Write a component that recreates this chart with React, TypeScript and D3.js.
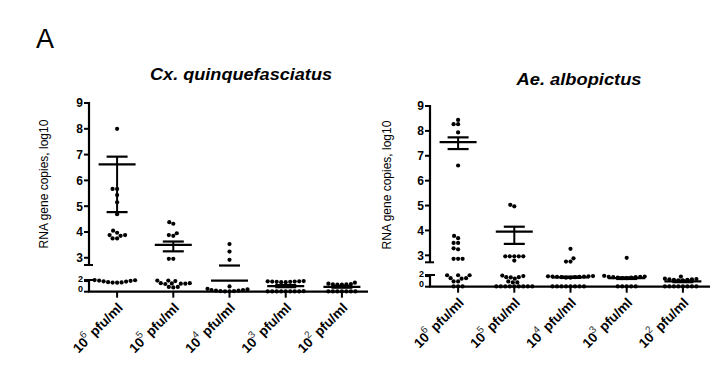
import React from 'react';
import * as d3 from 'd3';

const categories = ['6', '5', '4', '3', '2'];

// Cx. quinquefasciatus values (log10), one array per dose group
const cx6 = [8.0, 5.67, 5.67, 5.43, 5.15, 4.69, 4.05, 3.97, 3.88, 3.88, 3.85, 3.75, 3.75,
  2.18, 2.15, 2.1, 2.05, 1.95, 1.9, 1.8, 1.75, 1.72, 1.7];
const cx5 = [4.38, 4.32, 3.95, 3.88, 3.85, 2.96, 2.96,
  2.1, 2.1, 2.0, 1.6, 1.6, 1.55, 1.5, 1.5, 1.45, 0.9, 0.9, 0.8];
const cx4 = [3.53, 3.24, 2.92, 1.0, 0.55, 0.45, 0.3, 0.2, 0.1, 0.05, 0.05, 0.1, 0.2, 0.3];
const cx3 = [2.0, 1.95, 1.95, 1.9, 1.9, 1.85, 1.85, 1.8, 1.8,
  0.1, 0.05, 0.05, 0.05, 0.05, 0.05, 0.05, 0.05, 0.05];
const cx2 = [1.7, 1.5, 1.45, 1.4, 1.4, 1.35, 1.35, 0.05, 0.05, 0.05, 0.05, 0.05, 0.05, 0.05];
const cxMean = [6.62, 3.5, 2.07, 1.05, 0.9];
const cxLow: (number | null)[] = [4.77, 3.25, null, 0.85, 0.75];
const cxHigh = [6.92, 3.63, 2.7, 1.25, 1.05];

// Ae. albopictus values (log10)
const ae6 = [8.44, 8.27, 8.27, 7.94, 6.61, 3.78, 3.69, 3.5, 3.5, 3.28, 3.24, 2.86, 2.86, 2.86,
  2.15, 2.15, 2.15, 1.6, 1.6, 1.5, 1.0, 1.0, 0.05, 0.05, 0.05];
const ae5 = [5.03, 4.97, 2.96, 2.96, 2.96, 2.96, 2.96, 2.79,
  2.1, 2.0, 1.8, 1.8, 1.75, 1.5, 1.0, 0.8, 0.8,
  0.05, 0.05, 0.05, 0.05, 0.05, 0.05, 0.05, 0.05, 0.05];
const ae4 = [3.26, 2.88, 2.75, 2.75, 2.0, 1.95, 1.95, 1.9, 1.9, 1.85, 1.85, 1.8, 1.8, 1.7, 1.7,
  0.05, 0.05, 0.05, 0.05, 0.05, 0.05, 0.05, 0.05];
const ae3 = [2.9, 2.05, 1.9, 1.85, 1.85, 1.8, 1.8, 1.7, 1.7, 1.6, 1.6, 0.05, 0.05, 0.05, 0.05, 0.05];
const ae2 = [1.9, 1.5, 1.45, 1.4, 1.4, 1.3, 1.3, 1.2, 1.2, 0.05, 0.05, 0.05, 0.05, 0.05, 0.05, 0.05, 0.05];
const aeMean = [7.55, 3.95, 1.77, 1.6, 1.0];
const aeLow: (number | null)[] = [7.27, 3.46, 1.65, 1.45, 0.85];
const aeHigh = [7.74, 4.15, 1.9, 1.75, 1.15];

const upperTicks = [3, 4, 5, 6, 7, 8, 9];
const lowerTicks = [0, 2];
const LOWER_MAX = 2.2;
const UPPER_MIN = 2.72;

const FONT = 'Liberation Sans, Arial, sans-serif';

function swarm(ys: number[], D: number): number[] {
  const order = ys.map((_, i) => i).sort((a, b) => ys[b] - ys[a]);
  const placed: { x: number; y: number }[] = [];
  const xs = new Array(ys.length).fill(0);
  for (const i of order) {
    const y = ys[i];
    for (let k = 0; k < 400; k++) {
      const off = (k % 2 === 0 ? 1 : -1) * Math.ceil(k / 2) * 0.5;
      if (placed.every(p => (p.x - off) ** 2 + (p.y - y) ** 2 >= D * D)) {
        xs[i] = off;
        placed.push({ x: off, y });
        break;
      }
    }
  }
  return xs;
}

type PanelProps = {
  title: string;
  titleX: number;
  titleY: number;
  titleLen: number;
  labelX: number;
  labelY: number;
  axisX: number;
  axisRight: number;
  xRangeEnd: number;
  top: number;
  upperBottom: number;
  lowerTop: number;
  axisY: number;
  groups: number[][];
  means: number[];
  lows: (number | null)[];
  highs: number[];
};

function Panel(p: PanelProps) {
  const yUp = d3.scaleLinear().domain([UPPER_MIN, 9]).range([p.upperBottom, p.top]);
  const yLo = d3.scaleLinear().domain([0, LOWER_MAX]).range([p.axisY, p.lowerTop]);
  const y = (v: number) => (v <= LOWER_MAX ? yLo(v) : yUp(v));
  const seg = (v: number) => (v <= LOWER_MAX ? 0 : 1);
  const x = d3.scalePoint<string>().domain(categories).range([p.axisX, p.xRangeEnd]).padding(0.5);
  const ax = p.axisX;

  return (
    <g>
      <text x={p.titleX} y={p.titleY} textAnchor="middle" fontFamily={FONT} fontWeight="bold"
        fontStyle="italic" fontSize={16} textLength={p.titleLen} lengthAdjust="spacingAndGlyphs">{p.title}</text>
      <text transform={`translate(${p.labelX},${p.labelY}) rotate(-90)`} textAnchor="middle"
        fontFamily={FONT} fontSize={12}>RNA gene copies, log10</text>

      {/* points */}
      {p.groups.map((vals, gi) => {
        const ys = vals.map(y);
        const xs = swarm(ys, 4.2);
        const cx = x(categories[gi])!;
        return vals.map((v, i) => (
          <circle key={`${gi}-${i}`} cx={cx + xs[i]} cy={ys[i]} r={2.1} fill="#000" />
        ));
      })}

      {/* means and error bars */}
      {p.means.map((m, gi) => {
        const cx = x(categories[gi])!;
        const hi = p.highs[gi];
        const lo = p.lows[gi];
        const els = [] as React.ReactNode[];
        els.push(<line key="m" x1={cx - 18.5} x2={cx + 18.5} y1={y(m)} y2={y(m)} stroke="#000" strokeWidth={2.2} />);
        els.push(<line key="h" x1={cx - 10.5} x2={cx + 10.5} y1={y(hi)} y2={y(hi)} stroke="#000" strokeWidth={2.2} />);
        if (seg(hi) === seg(m)) els.push(<line key="vh" x1={cx} x2={cx} y1={y(m)} y2={y(hi)} stroke="#000" strokeWidth={2} />);
        if (lo !== null) {
          els.push(<line key="l" x1={cx - 10.5} x2={cx + 10.5} y1={y(lo)} y2={y(lo)} stroke="#000" strokeWidth={2.2} />);
          if (seg(lo) === seg(m)) els.push(<line key="vl" x1={cx} x2={cx} y1={y(m)} y2={y(lo)} stroke="#000" strokeWidth={2} />);
        }
        return <g key={`e${gi}`}>{els}</g>;
      })}

      {/* y axis upper segment */}
      <line x1={ax} x2={ax} y1={yUp(9) - 1} y2={yUp(UPPER_MIN)} stroke="#000" strokeWidth={2.2} />
      <line x1={ax - 5} x2={ax + 4} y1={yUp(UPPER_MIN)} y2={yUp(UPPER_MIN)} stroke="#000" strokeWidth={2} />
      {upperTicks.map(t => (
        <g key={`u${t}`}>
          <line x1={ax - 5} x2={ax} y1={yUp(t)} y2={yUp(t)} stroke="#000" strokeWidth={2} />
          <text x={ax - 6} y={yUp(t)} dy="0.36em" textAnchor="end" fontFamily={FONT} fontWeight="bold" fontSize={12}>{t}</text>
        </g>
      ))}
      {/* y axis lower segment */}
      <line x1={ax} x2={ax} y1={yLo(LOWER_MAX)} y2={p.axisY} stroke="#000" strokeWidth={2.2} />
      <line x1={ax - 5} x2={ax + 5} y1={yLo(LOWER_MAX)} y2={yLo(LOWER_MAX)} stroke="#000" strokeWidth={2} />
      {lowerTicks.map(t => (
        <g key={`l${t}`}>
          <line x1={ax - 5} x2={ax} y1={yLo(t)} y2={yLo(t)} stroke="#000" strokeWidth={2} />
          <text x={ax - 6} y={t === 0 ? p.axisY + 0.5 : yLo(t) + 0.5} textAnchor="end" fontFamily={FONT}
            fontWeight="bold" fontSize={9}>{t}</text>
        </g>
      ))}

      {/* x axis */}
      <line x1={ax - 1} x2={p.axisRight} y1={p.axisY} y2={p.axisY} stroke="#000" strokeWidth={2.2} />
      {categories.map(c => {
        const cx = x(c)!;
        return (
          <g key={`x${c}`}>
            <line x1={cx} x2={cx} y1={p.axisY} y2={p.axisY + 6} stroke="#000" strokeWidth={2} />
            <text transform={`translate(${cx + 6.5},${p.axisY + 17}) rotate(-45)`} textAnchor="end"
              fontFamily={FONT} fontWeight="bold" fontSize={13.5}>
              10<tspan fontWeight="normal" fontSize={10} dy={-7} dx={-1} fill="#333">{c}</tspan>
              <tspan dy={7}> pfu/ml</tspan>
            </text>
          </g>
        );
      })}
    </g>
  );
}

export default function App() {
  return (
    <svg width={718} height={379} style={{ position: 'absolute', left: 0, top: 0, background: '#fff' }}>
      <rect width={718} height={379} fill="#fff" />
      <text x={36} y={48} fontFamily={FONT} fontSize={27}>A</text>
      <Panel title="Cx. quinquefasciatus" titleX={241} titleY={80} titleLen={182}
        labelX={48} labelY={184}
        axisX={89} axisRight={368} xRangeEnd={370}
        top={103} upperBottom={265} lowerTop={280} axisY={291.7}
        groups={[cx6, cx5, cx4, cx3, cx2]} means={cxMean} lows={cxLow} highs={cxHigh} />
      <Panel title="Ae. albopictus" titleX={579} titleY={85} titleLen={125}
        labelX={391} labelY={185}
        axisX={430} axisRight={710} xRangeEnd={711}
        top={106} upperBottom={262.3} lowerTop={275} axisY={286.7}
        groups={[ae6, ae5, ae4, ae3, ae2]} means={aeMean} lows={aeLow} highs={aeHigh} />
    </svg>
  );
}
